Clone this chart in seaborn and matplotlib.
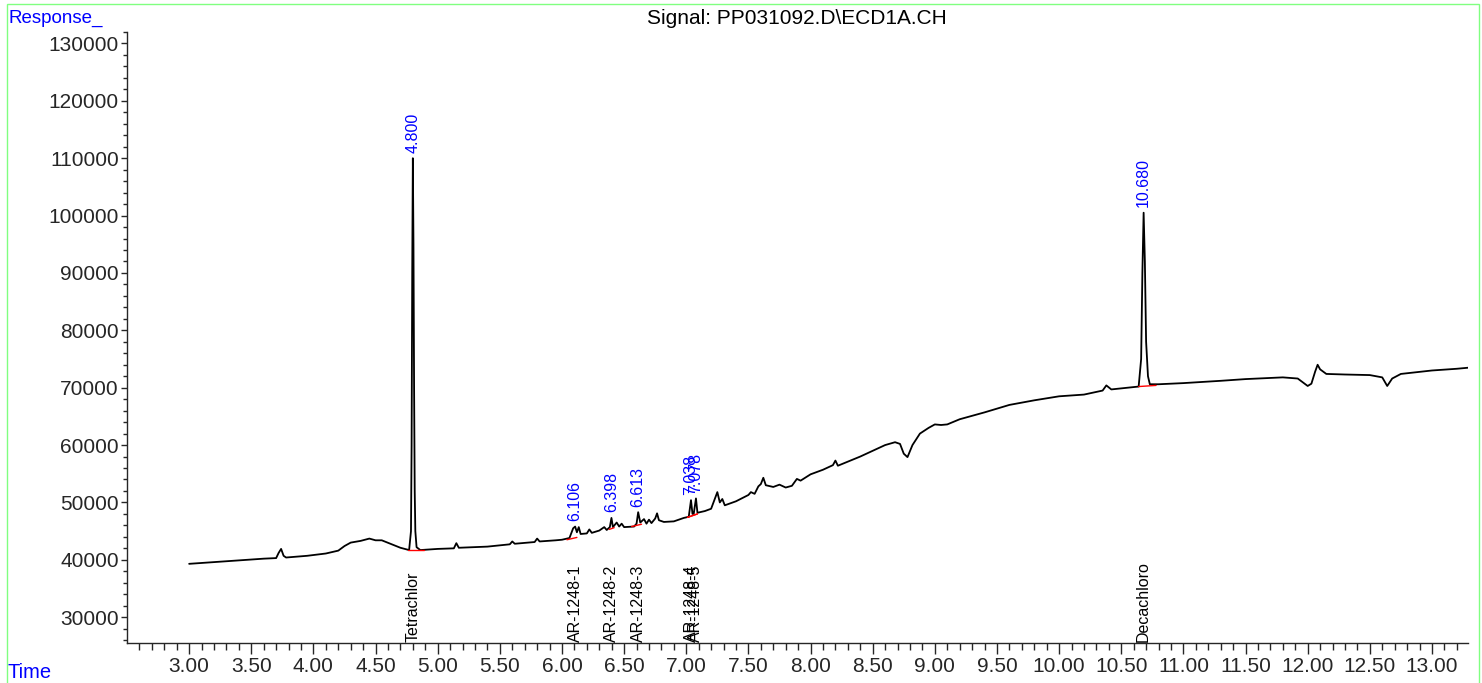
import numpy as np
import pandas as pd
import matplotlib
matplotlib.use("Agg")
import matplotlib.pyplot as plt
import seaborn as sns
from matplotlib.ticker import FixedLocator, FuncFormatter
from matplotlib.patches import Rectangle

# chromatogram trace (time in min, response)
time_pts = [3.00, 3.20, 3.40, 3.60, 3.70, 3.72, 3.74, 3.76, 3.78, 3.95, 4.10, 4.20, 4.25, 4.30,
            4.38, 4.45, 4.50, 4.55, 4.62, 4.70, 4.77, 4.785, 4.79, 4.795, 4.800, 4.805, 4.81,
            4.815, 4.82, 4.83, 4.86, 5.00, 5.13, 5.15, 5.17, 5.40, 5.58, 5.60, 5.62, 5.78, 5.80,
            5.82, 5.95, 6.00, 6.06, 6.09, 6.106, 6.12, 6.135, 6.15, 6.20, 6.22, 6.24, 6.30, 6.34,
            6.36, 6.385, 6.398, 6.41, 6.44, 6.46, 6.48, 6.50, 6.58, 6.60, 6.613, 6.63, 6.66, 6.68,
            6.70, 6.72, 6.75, 6.765, 6.78, 6.82, 6.90, 6.98, 7.02, 7.038, 7.05, 7.06, 7.078, 7.09,
            7.15, 7.20, 7.25, 7.27, 7.29, 7.31, 7.40, 7.50, 7.52, 7.55, 7.58, 7.60, 7.62, 7.64,
            7.70, 7.75, 7.80, 7.85, 7.89, 7.92, 8.00, 8.10, 8.18, 8.20, 8.22, 8.40, 8.60, 8.68,
            8.72, 8.75, 8.78, 8.82, 8.88, 8.95, 9.00, 9.05, 9.10, 9.20, 9.40, 9.60, 9.80, 10.00,
            10.20, 10.35, 10.38, 10.42, 10.55, 10.64, 10.66, 10.67, 10.68, 10.69, 10.70, 10.715,
            10.73, 10.80, 11.00, 11.30, 11.50, 11.80, 11.92, 12.00, 12.03, 12.06, 12.08, 12.10,
            12.15, 12.30, 12.50, 12.60, 12.64, 12.68, 12.75, 13.00, 13.20, 13.30]
resp_pts = [39300, 39600, 39900, 40200, 40300, 41200, 41900, 40700, 40400, 40700, 41100, 41600,
            42400, 43000, 43300, 43700, 43400, 43400, 42800, 42100, 41700, 45000, 60000, 90000,
            110000, 95000, 70000, 52000, 45000, 42200, 41700, 41900, 42000, 42900, 42100, 42300,
            42700, 43200, 42800, 43100, 43700, 43200, 43400, 43500, 43800, 45500, 45800, 44800,
            45700, 44500, 44600, 45300, 44700, 45100, 45700, 45200, 45700, 47300, 45700, 46500,
            45800, 46300, 45700, 45800, 46300, 48300, 46500, 47100, 46300, 47000, 46400, 47200,
            48100, 46900, 46600, 46700, 47300, 47500, 50400, 48000, 48000, 50700, 48200, 48500,
            48900, 51800, 50000, 50600, 49500, 50200, 51300, 51800, 51500, 52800, 53200, 54300,
            53000, 52700, 53100, 52600, 52900, 54100, 53800, 54900, 55700, 56500, 57300, 56400,
            58000, 60000, 60500, 60200, 58500, 57900, 60000, 62000, 63000, 63600, 63500, 63600,
            64500, 65700, 67000, 67800, 68500, 68800, 69500, 70400, 69700, 70000, 70200, 75000,
            90000, 100500, 92000, 78000, 72000, 70600, 70600, 70800, 71200, 71500, 71800, 71600,
            70300, 70700, 72800, 74000, 73200, 72400, 72300, 72200, 71800, 70300, 71600, 72400,
            73000, 73300, 73500]

# integrated peaks
peak_rt = [4.800, 6.106, 6.398, 6.613, 7.038, 7.078, 10.680]
peak_top = [110000, 45800, 47300, 48300, 50400, 50700, 100500]
peak_name = ["Tetrachlor", "AR-1248-1", "AR-1248-2", "AR-1248-3", "AR-1248-4", "AR-1248-5",
             "Decachloro"]
base_start = [4.76, 6.04, 6.38, 6.56, 7.01, 7.01, 10.64]
base_end = [4.89, 6.12, 6.42, 6.64, 7.09, 7.09, 10.78]
base_y0 = [41700, 43500, 45300, 45800, 47400, 47400, 70200]
base_y1 = [41700, 43900, 45600, 46200, 48000, 48000, 70400]

df = pd.DataFrame({"time": time_pts, "response": resp_pts})

sns.set_style("ticks")
plt.rcParams["font.family"] = ["Liberation Sans", "DejaVu Sans"]

fig = plt.figure(figsize=(14.82, 6.83), dpi=100)
ax = fig.add_axes([127 / 1482, 1 - 643 / 683, (1468 - 127) / 1482, (643 - 32) / 683])

sns.lineplot(data=df, x="time", y="response", color="black", lw=1.3, ax=ax, sort=False,
             estimator=None)

for i in range(len(peak_rt)):
    ax.plot([base_start[i], base_end[i]], [base_y0[i], base_y1[i]], color="red", lw=1)
    ax.annotate(f"{peak_rt[i]:.3f}", (peak_rt[i], peak_top[i]), xytext=(0, 4),
                textcoords="offset points", rotation=90, ha="center", va="bottom",
                color="blue", fontsize=11.5)
    ax.text(peak_rt[i], 25700, peak_name[i], rotation=90, ha="center", va="bottom",
            color="black", fontsize=11.5)

ax.set_xlim(2.5, 13.29)
ax.set_ylim(25500, 132000)
ax.xaxis.set_major_locator(FixedLocator(np.arange(3.0, 13.01, 0.5)))
ax.xaxis.set_minor_locator(FixedLocator(np.arange(2.6, 13.25, 0.1)))
ax.yaxis.set_major_locator(FixedLocator(np.arange(30000, 130001, 10000)))
ax.yaxis.set_minor_locator(FixedLocator(np.arange(26000, 132001, 2000)))
ax.xaxis.set_major_formatter(FuncFormatter(lambda v, p: f"{v:.2f}"))
ax.yaxis.set_major_formatter(FuncFormatter(lambda v, p: f"{v:.0f}"))
ax.tick_params(axis="x", which="major", length=8, width=1, labelsize=15, pad=2)
ax.tick_params(axis="x", which="minor", length=5, width=1)
ax.tick_params(axis="y", which="major", length=4, width=1, labelsize=15, pad=2)
ax.tick_params(axis="y", which="minor", length=3, width=1)
ax.set_xlabel("")
ax.set_ylabel("")
sns.despine(ax=ax)
for s in ["left", "bottom"]:
    ax.spines[s].set_linewidth(1)

fig.text(8 / 1482, 1 - 18 / 683, "Response_", color="blue", fontsize=13.5, va="center", ha="left")
fig.text(8 / 1482, 1 - 672 / 683, "Time", color="blue", fontsize=14.5, va="center", ha="left")
fig.text(797 / 1482, 1 - 19 / 683, "Signal: PP031092.D\\ECD1A.CH", color="black", fontsize=15,
         va="center", ha="center")

fig.patches.append(Rectangle((7 / 1482, -0.02), (1479 - 7) / 1482, 1.02 - 4 / 683,
                             transform=fig.transFigure, fill=False, edgecolor="#80ff80", lw=1))

fig.savefig("out.png", dpi=100)
